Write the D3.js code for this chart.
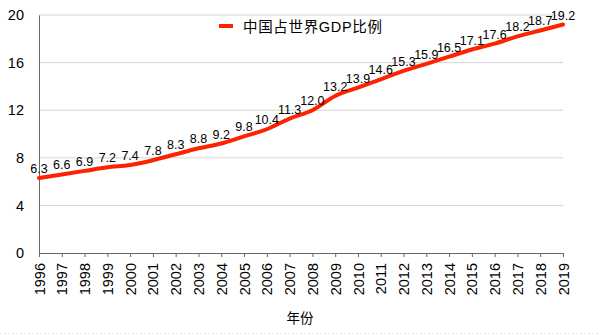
<!DOCTYPE html>
<html><head><meta charset="utf-8">
<script src="https://cdn.jsdelivr.net/npm/d3@7"></script>
<style>body{margin:0;background:#fff;font-family:"Liberation Sans","Noto Sans CJK SC",sans-serif}</style>
</head><body><svg id="c" width="600" height="335"></svg>
<script>
const years = ["1996","1997","1998","1999","2000","2001","2002","2003","2004","2005","2006","2007","2008","2009","2010","2011","2012","2013","2014","2015","2016","2017","2018","2019"];
const share = [6.3,6.6,6.9,7.2,7.4,7.8,8.3,8.8,9.2,9.8,10.4,11.3,12.0,13.2,13.9,14.6,15.3,15.9,16.5,17.1,17.6,18.2,18.7,19.2];
const yTicks = [0,4,8,12,16,20];
const seriesName = "中国占世界GDP比例";
const xTitle = "年份";

const svg = d3.select("#c");
const m = {l:39, r:563, t:15, b:253};
const x = d3.scalePoint().domain(years).range([m.l, m.r]);
const y = d3.scaleLinear().domain([0,20]).range([m.b, m.t]);
const font = '"Liberation Sans","Noto Sans CJK SC",sans-serif';

// gridlines
svg.append("g").selectAll("line").data(yTicks.filter(d=>d>0)).join("line")
  .attr("x1", m.l).attr("x2", m.r).attr("y1", d=>y(d)).attr("y2", d=>y(d))
  .attr("stroke", "#d4d4d4").attr("stroke-width", 1);

// y axis
const ya = svg.append("g").attr("transform", `translate(${m.l},0)`)
  .call(d3.axisLeft(y).tickValues(yTicks).tickSize(0).tickPadding(15));
ya.select(".domain").attr("stroke", "#666");
ya.selectAll("text").attr("font-size", 14.5).attr("font-family", font).attr("fill", "#000");

// x axis
const xa = svg.append("g").attr("transform", `translate(0,${m.b})`)
  .call(d3.axisBottom(x).tickSize(4).tickSizeOuter(0));
xa.select(".domain").attr("stroke", "#666");
xa.selectAll(".tick line").attr("stroke", "#666");
xa.selectAll("text").attr("font-size", 14.5).attr("font-family", font).attr("fill", "#000")
  .attr("transform", "rotate(-90)").attr("text-anchor", "end")
  .attr("x", -10).attr("y", 0).attr("dy", "0.35em");

// line
const line = d3.line().x((d,i)=>x(years[i])).y(d=>y(d)).curve(d3.curveMonotoneX);
svg.append("path").datum(share).attr("d", line)
  .attr("fill", "none").attr("stroke", "#ff2200").attr("stroke-width", 4).attr("stroke-linecap","round");

// labels
svg.append("g").selectAll("text").data(share).join("text")
  .attr("x", (d,i)=>x(years[i])).attr("y", d=>y(d)-5)
  .attr("text-anchor", "middle").attr("font-size", 12.5).attr("font-family", font).attr("fill", "#000")
  .text(d=>d.toFixed(1));

// legend
svg.append("line").attr("x1", 219).attr("x2", 233).attr("y1", 26).attr("y2", 26)
  .attr("stroke", "#ff2200").attr("stroke-width", 4);
svg.append("text").attr("x", 243).attr("y", 31.5).attr("font-size", 14.5).attr("font-family", font)
  .attr("textLength", 139).attr("lengthAdjust", "spacing")
  .text(seriesName);

// x title
svg.append("text").attr("x", 300).attr("y", 323).attr("text-anchor","middle")
  .attr("font-size", 13.5).attr("font-family", font).text(xTitle);

svg.append("line").attr("x1",0).attr("x2",600).attr("y1",333.5).attr("y2",333.5)
  .attr("stroke","#e4e4e4").attr("stroke-dasharray","2,2");
</script></body></html>
